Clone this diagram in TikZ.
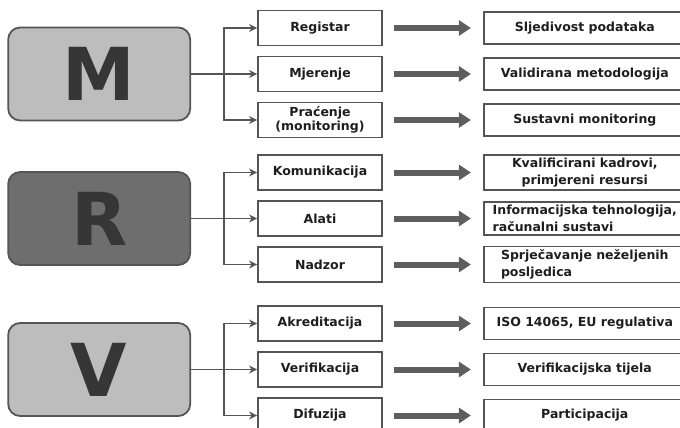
\documentclass[tikz,border=0pt]{standalone}
\usepackage{fontspec}
\setmainfont{DejaVu Sans}
\usetikzlibrary{positioning, arrows.meta}

\definecolor{framegray}{HTML}{555555}
\definecolor{arrowgray}{HTML}{5E5E5E}
\definecolor{lightfill}{HTML}{BDBDBD}
\definecolor{darkfill}{HTML}{6E6E6E}
\definecolor{lettergray}{HTML}{363636}
\definecolor{textgray}{HTML}{1E1E1E}

\begin{document}
\begin{tikzpicture}[x=1pt, y=-1pt, node distance=46pt, font=\bfseries\fontsize{12.5}{14}\selectfont, text=textgray]
    \tikzstyle{letterbox} = [draw=framegray, line width=1.8pt, rectangle, rounded corners=12pt, minimum width=182pt, minimum height=93pt, text=lettergray, font=\bfseries\fontsize{73}{73}\selectfont]
    \tikzstyle{stepbox} = [draw=framegray, line width=1.8pt, rectangle, minimum width=124pt, minimum height=35pt, align=center]
    \tikzstyle{resultbox} = [draw=framegray, line width=1.8pt, rectangle, minimum width=202pt, minimum height=32pt, align=center, font=\bfseries\fontsize{12.5}{16.5}\selectfont]
    \tikzstyle{branch} = [draw=framegray, line width=1.8pt, -{Stealth[length=8pt, width=8pt, inset=2.5pt]}]
    \tikzstyle{bigarrow} = [draw=arrowgray, line width=6pt, -{Triangle[length=12pt, width=15pt]}, shorten <=11pt, shorten >=12pt]

    \useasboundingbox (0,0) rectangle (680,428);
    \clip (0,0) rectangle (680,428);

    % M
    \node[stepbox] (registar) at (320,28) {Registar};
    \node[stepbox, below of=registar] (mjerenje) {Mjerenje};
    \node[stepbox, below of=mjerenje, font=\bfseries\fontsize{12.5}{13.5}\selectfont] (pracenje) {Praćenje\\(monitoring)};
    \node[letterbox, fill=lightfill, left=66pt of mjerenje] (M) {M};
    \node[resultbox, right=100pt of registar] (sljedivost) {Sljedivost podataka};
    \node[resultbox, right=100pt of mjerenje] (validirana) {Validirana metodologija};
    \node[resultbox, right=100pt of pracenje] (sustavni) {Sustavni monitoring};

    % R
    \node[stepbox] (komunikacija) at (320,172.5) {Komunikacija};
    \node[stepbox, below of=komunikacija] (alati) {Alati};
    \node[stepbox, below of=alati] (nadzor) {Nadzor};
    \node[letterbox, fill=darkfill, left=66pt of alati] (R) {R};
    \node[resultbox, right=100pt of komunikacija] (kadrovi) {Kvalificirani kadrovi,\\primjereni resursi};
    \node[resultbox, right=100pt of alati, align=left] (informacijska) {Informacijska tehnologija,\\računalni sustavi};
    \node[resultbox, right=100pt of nadzor, align=left] (posljedice) {Sprječavanje neželjenih\\posljedica};

    % V
    \node[stepbox] (akreditacija) at (320,323.5) {Akreditacija};
    \node[stepbox, below of=akreditacija] (verifikacija) {Verifikacija};
    \node[stepbox, below of=verifikacija] (difuzija) {Difuzija};
    \node[letterbox, fill=lightfill, left=66pt of verifikacija] (V) {V};
    \node[resultbox, right=100pt of akreditacija] (iso) {ISO 14065, EU regulativa};
    \node[resultbox, right=100pt of verifikacija] (tijela) {Verifikacijska tijela};
    \node[resultbox, right=100pt of difuzija] (participacija) {Participacija};

    \coordinate[right=33pt of M.east] (mfork);
    \coordinate[right=33pt of R.east] (rfork);
    \coordinate[right=33pt of V.east] (vfork);

    \draw[branch] (M) -- (mjerenje);
    \draw[branch] (mfork) |- (registar);
    \draw[branch] (mfork) |- (pracenje);
    \draw[branch] (R) -- (alati);
    \draw[branch] (rfork) |- (komunikacija);
    \draw[branch] (rfork) |- (nadzor);
    \draw[branch] (V) -- (verifikacija);
    \draw[branch] (vfork) |- (akreditacija);
    \draw[branch] (vfork) |- (difuzija);

    \draw[bigarrow] (registar.east) -- (registar.east -| sljedivost.west);
    \draw[bigarrow] (mjerenje.east) -- (mjerenje.east -| validirana.west);
    \draw[bigarrow] (pracenje.east) -- (pracenje.east -| sustavni.west);
    \draw[bigarrow] (komunikacija.east) -- (komunikacija.east -| kadrovi.west);
    \draw[bigarrow] (alati.east) -- (alati.east -| informacijska.west);
    \draw[bigarrow] (nadzor.east) -- (nadzor.east -| posljedice.west);
    \draw[bigarrow] (akreditacija.east) -- (akreditacija.east -| iso.west);
    \draw[bigarrow] (verifikacija.east) -- (verifikacija.east -| tijela.west);
    \draw[bigarrow] (difuzija.east) -- (difuzija.east -| participacija.west);
\end{tikzpicture}
\end{document}
